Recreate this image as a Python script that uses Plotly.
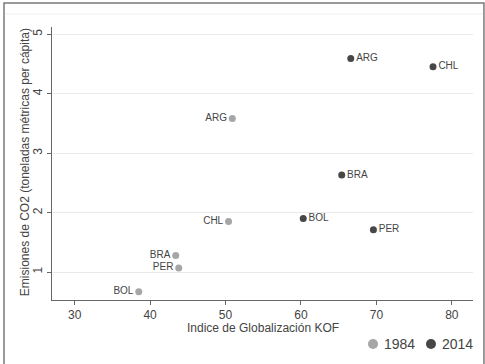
import plotly.graph_objects as go

# CO2 emissions vs KOF globalization index, 1984 and 2014
countries_1984 = ["ARG", "CHL", "BRA", "PER", "BOL"]
kof_1984 = [50.9, 50.4, 43.4, 43.8, 38.5]
co2_1984 = [3.58, 1.85, 1.28, 1.07, 0.67]

countries_2014 = ["ARG", "CHL", "BRA", "BOL", "PER"]
kof_2014 = [66.6, 77.5, 65.4, 60.3, 69.6]
co2_2014 = [4.59, 4.45, 2.63, 1.90, 1.71]

x_ticks = [30, 40, 50, 60, 70, 80]
y_ticks = [1, 2, 3, 4, 5]
years = ["1984", "2014"]

FONT = "Liberation Sans, Arial, sans-serif"
LIGHT = "#a6a6a6"
DARK = "#474747"
TXT = "#444444"

fig = go.Figure()
fig.add_trace(go.Scatter(
    x=kof_1984, y=co2_1984, text=countries_1984, name=years[0],
    mode="markers+text", textposition="middle left",
    marker=dict(color=LIGHT, size=7),
    textfont=dict(size=10, color=TXT, family=FONT),
))
fig.add_trace(go.Scatter(
    x=kof_2014, y=co2_2014, text=countries_2014, name=years[1],
    mode="markers+text", textposition="middle right",
    marker=dict(color=DARK, size=7),
    textfont=dict(size=10, color=TXT, family=FONT),
))

# outer frame of the graph region and faint inner band line
fig.add_shape(type="rect", xref="paper", yref="paper",
              x0=-0.114, x1=1.026, y0=-0.25, y1=1.088,
              line=dict(color="#7a7a7a", width=1.5), layer="below")
fig.add_shape(type="line", xref="paper", yref="paper",
              x0=-0.112, x1=1.024, y0=1.0476, y1=1.0476,
              line=dict(color="#eeeeee", width=1), layer="below")

# legend keys below the x axis title
for xa, col, xt, label in [(0.7625, LIGHT, 0.7838, years[0]),
                           (0.9002, DARK, 0.9216, years[1])]:
    fig.add_shape(type="circle", xref="paper", yref="paper",
                  xsizemode="pixel", ysizemode="pixel",
                  xanchor=xa, yanchor=-0.1612, x0=-5, x1=5, y0=-5, y1=5,
                  fillcolor=col, line=dict(width=0))
    fig.add_annotation(text=label, xref="paper", yref="paper", x=xt, y=-0.1612,
                       xanchor="left", yanchor="middle", showarrow=False,
                       font=dict(size=14, color=TXT, family=FONT))

# axis titles
fig.add_annotation(text="Indice de Globalización KOF", xref="paper", yref="paper",
                   x=0.501, y=-0.103, xanchor="center", yanchor="middle",
                   showarrow=False, font=dict(size=12, color=TXT, family=FONT))
fig.add_annotation(text="Emisiones de CO2 (toneladas métricas per cápita)",
                   xref="paper", yref="paper", x=-0.064, y=0.505, textangle=-90,
                   xanchor="center", yanchor="middle", showarrow=False,
                   font=dict(size=12, color=TXT, family=FONT))

fig.update_layout(
    width=485, height=364,
    margin=dict(l=52, r=12, t=27, b=64),
    paper_bgcolor="white", plot_bgcolor="white",
    font=dict(family=FONT, color=TXT, size=12),
    showlegend=False,
    xaxis=dict(
        range=[27, 82.8], tickvals=x_ticks, showgrid=False, zeroline=False,
        showline=True, linecolor="#666666", linewidth=1,
        ticks="outside", ticklen=4, tickcolor="#666666",
        tickfont=dict(size=12, color=TXT),
    ),
    yaxis=dict(
        range=[0.53, 5.12], tickvals=y_ticks, showgrid=True, gridcolor="#eaeaea",
        gridwidth=1, zeroline=False, showline=True, linecolor="#666666", linewidth=1,
        ticks="outside", ticklen=4, tickcolor="#666666", tickangle=-90,
        tickfont=dict(size=12, color=TXT),
    ),
)

fig.write_html("out.html")
